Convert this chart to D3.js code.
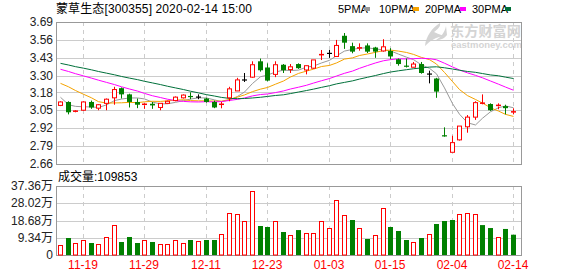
<!DOCTYPE html>
<html><head><meta charset="utf-8">
<script src="https://cdn.jsdelivr.net/npm/d3@7/dist/d3.min.js"></script>
<style>html,body{margin:0;padding:0;background:#fff;}svg{display:block;}</style>
</head><body><div id="chart"></div>
<script>
const dates = ["2019-11-14","2019-11-15","2019-11-18","2019-11-19","2019-11-20","2019-11-21","2019-11-22","2019-11-25","2019-11-26","2019-11-27","2019-11-28","2019-11-29",
"2019-12-02","2019-12-03","2019-12-04","2019-12-05","2019-12-06","2019-12-09","2019-12-10","2019-12-11","2019-12-12","2019-12-13","2019-12-16","2019-12-17","2019-12-18","2019-12-19","2019-12-20","2019-12-23","2019-12-24","2019-12-25","2019-12-26","2019-12-27","2019-12-30","2019-12-31",
"2020-01-02","2020-01-03","2020-01-06","2020-01-07","2020-01-08","2020-01-09","2020-01-10","2020-01-13","2020-01-14","2020-01-15","2020-01-16","2020-01-17","2020-01-20","2020-01-21","2020-01-22","2020-01-23",
"2020-02-03","2020-02-04","2020-02-05","2020-02-06","2020-02-07","2020-02-10","2020-02-11","2020-02-12","2020-02-13","2020-02-14"];
const open  = [3.085,3.11,3.04,3.05,3.11,3.065,3.10,3.14,3.21,3.165,3.11,3.085,3.097,3.07,3.10,3.12,3.14,3.15,3.146,3.135,3.11,3.09,3.14,3.19,3.27,3.29,3.405,3.36,3.31,3.38,3.345,3.385,3.342,3.355,3.45,3.463,3.44,3.59,3.515,3.50,3.52,3.505,3.48,3.48,3.42,3.37,3.362,3.385,3.313,3.28,2.865,2.745,2.835,2.93,3.00,3.10,3.095,3.077,3.08,3.035];
const high  = [3.115,3.115,3.05,3.115,3.12,3.095,3.135,3.22,3.215,3.17,3.135,3.10,3.11,3.10,3.12,3.15,3.165,3.18,3.165,3.14,3.12,3.11,3.22,3.285,3.32,3.405,3.425,3.39,3.405,3.385,3.385,3.39,3.375,3.415,3.487,3.487,3.56,3.61,3.54,3.535,3.535,3.51,3.565,3.50,3.425,3.425,3.40,3.40,3.337,3.285,2.926,2.865,2.935,3.015,3.115,3.165,3.10,3.10,3.09,3.064];
const low   = [3.08,3.02,3.035,3.045,3.06,3.05,3.05,3.09,3.135,3.07,3.065,3.06,3.06,3.05,3.095,3.115,3.135,3.13,3.13,3.105,3.065,3.064,3.115,3.19,3.255,3.285,3.33,3.26,3.29,3.32,3.32,3.35,3.31,3.35,3.414,3.43,3.44,3.495,3.463,3.482,3.465,3.43,3.475,3.42,3.373,3.36,3.36,3.315,3.245,3.14,2.858,2.745,2.83,2.887,2.98,3.093,3.045,3.057,3.02,3.02];
const close = [3.11,3.035,3.045,3.11,3.07,3.09,3.13,3.20,3.165,3.11,3.09,3.095,3.085,3.10,3.115,3.145,3.16,3.145,3.146,3.11,3.07,3.095,3.205,3.27,3.27,3.38,3.34,3.265,3.38,3.34,3.365,3.355,3.373,3.415,3.455,3.463,3.52,3.54,3.475,3.504,3.475,3.475,3.51,3.44,3.385,3.365,3.385,3.32,3.313,3.185,2.858,2.815,2.935,3.00,3.105,3.103,3.05,3.087,3.065,3.04];
const ma5  = [3.144,3.090,3.078,3.075,3.074,3.070,3.089,3.120,3.131,3.139,3.139,3.132,3.109,3.096,3.097,3.107,3.120,3.131,3.140,3.139,3.125,3.112,3.125,3.150,3.182,3.244,3.293,3.305,3.327,3.341,3.338,3.341,3.363,3.370,3.393,3.412,3.445,3.479,3.491,3.500,3.503,3.494,3.488,3.481,3.457,3.435,3.417,3.379,3.354,3.314,3.212,3.098,3.021,2.959,2.943,2.992,3.039,3.068,3.081,3.068];
const ma10 = [3.245,3.220,3.193,3.166,3.140,3.112,3.102,3.103,3.104,3.107,3.105,3.111,3.115,3.114,3.118,3.123,3.126,3.120,3.118,3.118,3.116,3.116,3.128,3.145,3.161,3.185,3.203,3.215,3.239,3.262,3.291,3.317,3.334,3.348,3.367,3.375,3.393,3.421,3.430,3.447,3.458,3.470,3.483,3.486,3.479,3.469,3.455,3.433,3.417,3.385,3.324,3.258,3.200,3.156,3.128,3.102,3.068,3.044,3.020,3.005];
const ma20 = [3.347,3.331,3.315,3.299,3.283,3.268,3.252,3.236,3.220,3.204,3.189,3.172,3.155,3.142,3.130,3.120,3.114,3.111,3.110,3.112,3.110,3.113,3.121,3.129,3.139,3.154,3.164,3.168,3.178,3.190,3.204,3.217,3.231,3.247,3.264,3.280,3.298,3.318,3.334,3.354,3.374,3.393,3.409,3.417,3.423,3.422,3.424,3.427,3.424,3.416,3.391,3.364,3.342,3.321,3.303,3.285,3.262,3.239,3.218,3.195];
const ma30 = [3.390,3.378,3.366,3.355,3.343,3.331,3.319,3.307,3.295,3.283,3.272,3.260,3.248,3.236,3.224,3.212,3.200,3.188,3.176,3.163,3.153,3.143,3.136,3.134,3.135,3.139,3.144,3.150,3.157,3.162,3.171,3.182,3.193,3.203,3.216,3.228,3.241,3.252,3.263,3.276,3.289,3.302,3.316,3.327,3.336,3.344,3.351,3.357,3.363,3.365,3.358,3.349,3.340,3.331,3.325,3.316,3.306,3.300,3.290,3.280];
const volume = [52500,92000,63000,79600,65000,59600,95700,160600,70400,97500,65000,79600,70400,57800,57800,79600,65000,81200,75800,81200,81200,112000,227000,222000,182000,345000,157000,151600,182000,124500,106600,135000,119000,119000,182000,144500,296000,215000,189500,144500,86600,106600,253000,151600,130000,81200,70400,92000,113700,167800,184000,189500,222000,227000,222000,162000,146000,97500,141000,109853];
const volDir = "rgrrgrrrgggrgrrrrgrggrrrrrggrgrgrrrrrrgrgrrgggrgrgggrrrggrgg".split("");
const priceTicks = [3.69,3.56,3.43,3.30,3.18,3.05,2.92,2.79,2.66];
const volTickLabels = ["37.36万","28.02万","18.68万","9.34万","0"];
const volTicks = [373600,280200,186800,93400,0];
const xTickDates = ["2019-11-19","2019-11-29","2019-12-11","2019-12-23","2020-01-03","2020-01-15","2020-02-04","2020-02-14"];
const xTickLabels = ["11-19","11-29","12-11","12-23","01-03","01-15","02-04","02-14"];
const titleText = "蒙草生态[300355] 2020-02-14 15:00";
const maNames = ["5PMA","10PMA","20PMA","30PMA"];
const maColors = ["#999999","#f5a300","#ff00ff","#00703a"];

const W = 578, H = 276;
const L = 56, R = 522;
const pTop = 22, pBot = 164, vTop = 186, vBot = 255;
const RED = "#ff0000", GREEN = "#008000";
const FONT = "'Liberation Sans','Noto Sans CJK SC',Arial,sans-serif";

const svg = d3.select("#chart").append("svg").attr("width", W).attr("height", H)
  .style("font-family", FONT);

const x = d3.scaleBand().domain(dates).range([L, 517]);
const cx = d => Math.round(x(d) + x.bandwidth() / 2);
const y = d3.scaleLinear().domain([2.66, 3.69]).range([pBot, pTop]);
const yv = d3.scaleLinear().domain([0, 373600]).range([vBot, vTop]);

// title & legend
svg.append("text").attr("x", L).attr("y", 13).attr("font-size", 12).attr("fill", "#000")
  .attr("textLength", 196).attr("lengthAdjust", "spacing").text(titleText);
const legX = [338, 379, 425, 472], sqX = [364, 413, 460, 505];
maNames.forEach((n, i) => {
  svg.append("text").attr("x", legX[i]).attr("y", 13).attr("font-size", 11).attr("fill", "#000").text(n);
  svg.append("rect").attr("x", sqX[i]).attr("y", 7).attr("width", 6).attr("height", 4).attr("fill", maColors[i]);
});

// watermark
const wm = svg.append("g").attr("fill", "#d4d4d4");
wm.append("path").attr("d", "M440,23 C432,28 426,36 425,46 C431,40 436,37 444,36 C439,34 436,33 434,32 C438,29 441,26 440,23 Z");
wm.append("path").attr("d", "M446,26 C445,32 441,37 436,40 C441,40 445,38 447,35 Z");
wm.append("text").attr("x", 450).attr("y", 36).attr("font-size", 14).attr("font-weight", "bold")
  .attr("textLength", 71).attr("lengthAdjust", "spacingAndGlyphs").text("东方财富网");
wm.append("text").attr("x", 451).attr("y", 48).attr("font-size", 9).attr("font-weight", "bold")
  .attr("textLength", 71).attr("lengthAdjust", "spacingAndGlyphs").text("eastmoney.com");

// price grid
const g = svg.append("g");
priceTicks.forEach(t => {
  const yy = Math.round(y(t)) + 0.5;
  if (t !== 3.69 && t !== 2.66)
    g.append("line").attr("x1", L).attr("x2", R).attr("y1", yy).attr("y2", yy).attr("stroke", "#cccccc");
  g.append("text").attr("x", 53).attr("y", y(t)).attr("dy", "0.35em").attr("text-anchor", "end")
    .attr("font-size", 12).attr("fill", "#222").text(t.toFixed(2));
});
volTicks.forEach((t, i) => {
  const yy = Math.round(yv(t)) + 0.5;
  if (i !== 0 && i !== volTicks.length - 1)
    g.append("line").attr("x1", L).attr("x2", R).attr("y1", yy).attr("y2", yy).attr("stroke", "#cccccc");
  g.append("text").attr("x", 53).attr("y", yv(t)).attr("dy", "0.35em").attr("text-anchor", "end")
    .attr("font-size", 12).attr("fill", "#222").text(volTickLabels[i]);
});
xTickDates.forEach((d, i) => {
  const xx = cx(d) + 0.5;
  g.append("line").attr("x1", xx).attr("x2", xx).attr("y1", pTop).attr("y2", pBot)
    .attr("stroke", "#cccccc").attr("stroke-dasharray", "4,4");
  g.append("line").attr("x1", xx).attr("x2", xx).attr("y1", vTop).attr("y2", vBot)
    .attr("stroke", "#cccccc").attr("stroke-dasharray", "4,4");
  g.append("text").attr("x", cx(d)).attr("y", 269).attr("text-anchor", "middle")
    .attr("font-size", 12).attr("fill", RED).text(xTickLabels[i]);
});

// frames
svg.append("rect").attr("x", L + 0.5).attr("y", pTop + 0.5).attr("width", R - L - 1).attr("height", pBot - pTop)
  .attr("fill", "none").attr("stroke", "#999");
svg.append("rect").attr("x", L + 0.5).attr("y", vTop + 0.5).attr("width", R - L - 1).attr("height", vBot - vTop)
  .attr("fill", "none").attr("stroke", "#999");

// volume label
svg.append("text").attr("x", 58).attr("y", 181).attr("font-size", 12).attr("fill", "#000")
  .text("成交量:" + volume[volume.length - 1]);

// MA lines
const mas = [ma5, ma10, ma20, ma30];
mas.forEach((arr, k) => {
  const line = d3.line().x((v, i) => cx(dates[i]) + 0.5).y(v => y(v));
  svg.append("path").datum(arr).attr("d", line).attr("fill", "none")
    .attr("stroke", maColors[k]).attr("stroke-width", 1);
});

// candles
const cg = svg.append("g");
dates.forEach((d, i) => {
  const c = cx(d);
  const o = open[i], cl = close[i], h = high[i], l = low[i];
  const col = cl > o ? RED : (cl < o ? GREEN : "#000");
  const yo = y(o), yc = y(cl), yh = y(h), yl = y(l);
  const top = Math.min(yo, yc), bot = Math.max(yo, yc);
  const hgt = bot - top;
  if (cl > o) {
    cg.append("line").attr("x1", c + 0.5).attr("x2", c + 0.5).attr("y1", yh).attr("y2", top).attr("stroke", col);
    cg.append("line").attr("x1", c + 0.5).attr("x2", c + 0.5).attr("y1", bot).attr("y2", yl).attr("stroke", col);
    if (hgt < 2) {
      cg.append("rect").attr("x", c - 2).attr("y", top - 0.5).attr("width", 5).attr("height", Math.max(hgt, 1.5)).attr("fill", col);
    } else {
      cg.append("rect").attr("x", c - 1.5).attr("y", top).attr("width", 4).attr("height", hgt)
        .attr("fill", "#fff").attr("stroke", col);
    }
  } else {
    cg.append("line").attr("x1", c + 0.5).attr("x2", c + 0.5).attr("y1", yh).attr("y2", yl).attr("stroke", col);
    cg.append("rect").attr("x", c - 2).attr("y", top - (hgt < 1 ? 0.5 : 0)).attr("width", 5)
      .attr("height", Math.max(hgt, 1.2)).attr("fill", col);
  }
});

// volume bars
const vg = svg.append("g");
dates.forEach((d, i) => {
  const c = cx(d);
  const yt = yv(volume[i]);
  if (volDir[i] === "r") {
    vg.append("rect").attr("x", c - 1.5).attr("y", Math.round(yt) + 0.5).attr("width", 4)
      .attr("height", vBot - Math.round(yt) - 0.5).attr("fill", "#fff").attr("stroke", RED);
  } else {
    vg.append("rect").attr("x", c - 2).attr("y", yt).attr("width", 5).attr("height", vBot - yt).attr("fill", GREEN);
  }
});
</script></body></html>
